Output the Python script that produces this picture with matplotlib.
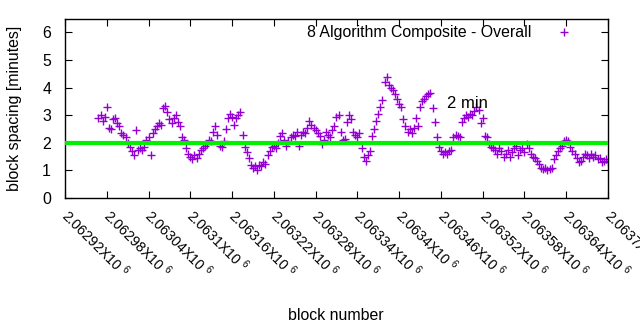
import matplotlib
matplotlib.use("Agg")
import matplotlib.pyplot as plt
import matplotlib.transforms as mtransforms
import numpy as np

plt.rcParams['font.family'] = ['Liberation Sans', 'DejaVu Sans']
plt.rcParams['mathtext.fontset'] = 'custom'
plt.rcParams['mathtext.rm'] = 'Liberation Sans'
plt.rcParams['mathtext.it'] = 'Liberation Sans'
plt.rcParams['mathtext.bf'] = 'Liberation Sans'

# ---- data ----
block_start = 2062968
block_step = 3
spacing = [
    2.9, 3.0, 2.8, 2.95, 3.3, 2.55, 2.5, 2.85, 2.9, 2.7,
    2.6, 2.35, 2.3, 2.2, 2.0, 1.85, 1.7, 1.55, 2.45, 1.75,
    1.8, 1.75, 1.85, 2.1, 2.2, 1.55, 2.35, 2.5, 2.6, 2.7,
    2.65, 3.25, 3.35, 3.1, 2.85, 2.7, 2.9, 3.0, 2.75, 2.6,
    2.2, 2.1, 1.8, 1.6, 1.5, 1.4, 1.55, 1.45, 1.6, 1.75,
    1.8, 1.9, 1.95, 2.1, 2.05, 2.4, 2.6, 2.3, 1.9, 1.85,
    2.05, 2.5, 2.9, 3.05, 2.95, 2.65, 2.9, 3.0, 3.1, 2.3,
    1.85, 1.65, 1.45, 1.2, 1.1, 1.15, 1.0, 1.2, 1.15, 1.3,
    1.25, 1.55, 1.7, 1.85, 1.9, 1.8, 2.0, 2.25, 2.35, 2.1,
    1.9, 2.05, 2.2, 2.3, 2.25, 2.4, 1.9, 2.3, 2.4, 2.35,
    2.55, 2.8, 2.65, 2.55, 2.45, 2.35, 2.25, 1.95, 2.1, 2.4,
    2.3, 2.2, 2.45, 2.6, 2.95, 3.0, 2.4, 2.1, 2.15, 2.75,
    3.0, 2.85, 2.4, 2.3, 2.2, 2.35, 1.8, 1.5, 1.35, 1.55,
    1.7, 2.25, 2.5, 2.8, 3.05, 3.3, 3.55, 4.2, 4.4, 4.1,
    4.0, 3.9, 3.75, 3.6, 3.4, 3.3, 2.85, 2.6, 2.4, 2.5,
    2.35, 2.55, 2.9, 2.6, 3.3, 3.5, 3.6, 3.7, 3.75, 3.8,
    3.25, 2.75, 2.2, 1.85, 1.7, 1.6, 1.65, 1.6, 1.7, 1.75,
    2.2, 2.3, 2.25, 2.2, 2.75, 2.9, 3.0, 2.95, 3.05, 3.0,
    3.15, 3.3, 3.2, 2.7, 2.9, 2.25, 2.2, 1.95, 1.85, 1.8,
    1.75, 1.6, 1.8, 1.7, 1.5, 1.6, 1.75, 1.5, 1.65, 1.8,
    1.9, 1.55, 1.75, 1.8, 1.65, 1.95, 1.8, 1.6, 1.5, 1.45,
    1.35, 1.25, 1.1, 1.05, 1.1, 1.0, 1.05, 1.1, 1.4, 1.55,
    1.7, 1.8, 1.9, 2.05, 2.1, 2.05, 1.85, 1.7, 1.6, 1.45,
    1.3, 1.35, 1.5, 1.6, 1.55, 1.45, 1.6, 1.5, 1.55, 1.4,
    1.45, 1.3, 1.35, 1.4, 1.3,
]
blocks = block_start + block_step * np.arange(len(spacing))

target_minutes = 2
x_ticks = [2062920, 2062980, 2063040, 2063100, 2063160, 2063220, 2063280,
           2063340, 2063400, 2063460, 2063520, 2063580, 2063640, 2063700]
x_tick_labels = ["2.06292X10 $^{6}$", "2.06298X10 $^{6}$", "2.06304X10 $^{6}$",
                 "2.0631X10 $^{6}$", "2.06316X10 $^{6}$", "2.06322X10 $^{6}$",
                 "2.06328X10 $^{6}$", "2.06334X10 $^{6}$", "2.0634X10 $^{6}$",
                 "2.06346X10 $^{6}$", "2.06352X10 $^{6}$", "2.06358X10 $^{6}$",
                 "2.06364X10 $^{6}$", "2.0637X10 $^{6}$"]
y_ticks = [0, 1, 2, 3, 4, 5, 6]

series_name = "8 Algorithm Composite - Overall"
line_label = "2 min"

# ---- plot ----
W, H = 640, 330
fig = plt.figure(figsize=(6.4, 3.3), dpi=100)
L, R, T, B = 65, 608, 18.6, 198
ax = fig.add_axes([L / W, 1 - B / H, (R - L) / W, (B - T) / H])

FS = 11.4
purple = '#9400D3'
ax.plot(blocks, spacing, linestyle='none', marker='+', markersize=5.5,
        markeredgewidth=1.0, color=purple, label=series_name, zorder=2)
ax.axhline(target_minutes, color='#00F000', linewidth=3.0, zorder=3)
ax.text(2063469, 3.26, line_label, fontsize=FS + 0.6, va='baseline',
        ha='left', color='black')

ax.set_xlim(2062920, 2063700)
ax.set_ylim(0, 6.5)
ax.set_yticks(y_ticks)
ax.set_yticklabels([str(v) for v in y_ticks], fontsize=FS)
ax.set_xticks(x_ticks)
ax.tick_params(axis='both', direction='in', length=5, width=0.8,
               top=True, right=True)
ax.tick_params(axis='y', pad=10)
ax.tick_params(axis='x', pad=7)
ax.set_xticklabels(x_tick_labels, fontsize=10.2, rotation=-45, ha='left',
                   va='top', rotation_mode='anchor')
shift = mtransforms.ScaledTranslation(6 / 100, 2 / 100, fig.dpi_scale_trans)
for tick in ax.xaxis.get_major_ticks():
    tick.label1.set_transform(tick.label1.get_transform() + shift)
for s in ax.spines.values():
    s.set_linewidth(1.0)

fig.text(15 / W, 1 - 108.5 / H, "block spacing [minutes]", rotation=90,
         ha='center', va='center', fontsize=FS)
fig.text(336 / W, 1 - 315 / H, "block number", ha='center', va='center',
         fontsize=FS)

leg = ax.legend(loc='upper right', bbox_to_anchor=(580 / W, 1 - 25.5 / H),
                bbox_transform=fig.transFigure, frameon=False,
                markerfirst=False, fontsize=FS, handlelength=2.0,
                handletextpad=1.1, borderpad=0, borderaxespad=0)

fig.savefig("out.png", dpi=100)
